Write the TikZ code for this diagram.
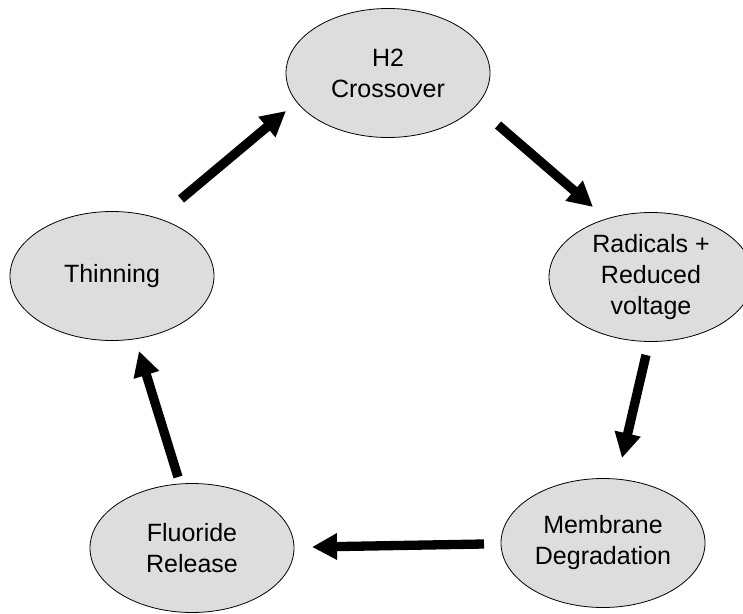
\documentclass[tikz,border=0pt]{standalone}
\usepackage{fontspec}
\setmainfont{Liberation Sans}
\usetikzlibrary{shapes.geometric,arrows.meta}
\definecolor{stagegray}{RGB}{221,221,221}
\begin{document}
\begin{tikzpicture}[x=1pt,y=-1pt,
  stage/.style={ellipse, draw=black, line width=0.8pt, fill=stagegray,
    minimum width=204pt, minimum height=129pt, inner sep=0pt, align=center,
    font=\fontsize{25}{31}\selectfont},
  flow/.style={line width=9.3pt, -{Triangle[length=25pt,width=25pt]}}]
\useasboundingbox (0,0) rectangle (743,613);
\begin{scope}
\clip (0,0) rectangle (743,613);
\node[stage] (h2) at (388,73) {H2\\Crossover};
\node[stage] (rad) at (651,277) {Radicals +\\Reduced\\voltage};
\node[stage] (mem) at (603,543) {Membrane\\Degradation};
\node[stage] (flu) at (192,548) {Fluoride\\Release};
\node[stage] (thin) at (112,276) {Thinning};
\end{scope}
\coordinate (a1s) at (498,125); \coordinate (a1e) at (593,207);
\coordinate (a2s) at (646,355); \coordinate (a2e) at (622,458);
\coordinate (a3s) at (484,544); \coordinate (a3e) at (312,547);
\coordinate (a4s) at (178,477); \coordinate (a4e) at (139,351);
\coordinate (a5s) at (181,199); \coordinate (a5e) at (286,111);
\draw[flow] (a1s) -- (a1e);
\draw[flow] (a2s) -- (a2e);
\draw[flow] (a3s) -- (a3e);
\draw[flow] (a4s) -- (a4e);
\draw[flow] (a5s) -- (a5e);
\end{tikzpicture}
\end{document}
